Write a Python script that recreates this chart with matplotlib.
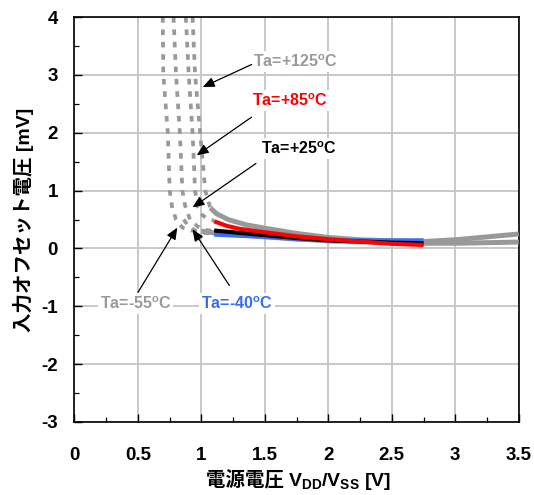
import matplotlib
matplotlib.use("Agg")
import matplotlib.pyplot as plt
from matplotlib.ticker import MultipleLocator

plt.rcParams['mathtext.fontset'] = 'custom'
plt.rcParams['mathtext.rm'] = 'Liberation Sans:bold'
plt.rcParams['mathtext.it'] = 'Liberation Sans:bold'
plt.rcParams['mathtext.bf'] = 'Liberation Sans:bold'
plt.rcParams['font.family'] = ['Liberation Sans', 'Noto Sans CJK JP', 'DejaVu Sans']
plt.rcParams['font.weight'] = 'bold'
plt.rcParams['axes.unicode_minus'] = False

# ---- data ----
# low-voltage (dotted) portions
dot_m55_x = [0.695, 0.70, 0.735, 0.75, 0.77, 0.80, 0.85, 0.92, 1.00]
dot_m55_y = [4.0, 3.0, 2.0, 1.0, 0.70, 0.50, 0.36, 0.31, 0.30]
dot_m40_x = [0.86, 0.90, 0.95, 1.02, 1.10]
dot_m40_y = [0.50, 0.38, 0.31, 0.27, 0.25]
dot_25_x = [0.78, 0.80, 0.83, 0.85, 0.87, 0.91, 0.97, 1.04, 1.10]
dot_25_y = [4.0, 3.0, 2.0, 1.0, 0.75, 0.50, 0.38, 0.32, 0.30]
dot_85_x = [0.877, 0.90, 0.93, 0.95, 0.97, 1.01, 1.06, 1.10]
dot_85_y = [4.0, 3.0, 2.0, 1.0, 0.72, 0.57, 0.50, 0.48]
dot_125_x = [0.93, 0.95, 0.99, 1.03, 1.07]
dot_125_y = [4.0, 3.0, 2.0, 1.0, 0.70]

# solid portions
sol_125_x = [1.07, 1.12, 1.21, 1.35, 1.5, 1.75, 2.0, 2.25, 2.5, 2.75, 3.0, 3.25, 3.5]
sol_125_y = [0.70, 0.60, 0.50, 0.41, 0.35, 0.26, 0.19, 0.15, 0.13, 0.12, 0.15, 0.20, 0.25]
sol_m55_x = [1.0, 1.1, 1.5, 2.0, 2.5, 2.75, 3.0, 3.25, 3.5]
sol_m55_y = [0.30, 0.27, 0.20, 0.13, 0.10, 0.09, 0.09, 0.10, 0.11]
sol_m40_x = [1.1, 1.3, 1.5, 1.75, 2.0, 2.25, 2.5, 2.75]
sol_m40_y = [0.24, 0.22, 0.20, 0.16, 0.14, 0.14, 0.14, 0.14]
sol_25_x = [1.1, 1.2, 1.5, 1.75, 2.0, 2.25, 2.5, 2.75]
sol_25_y = [0.31, 0.29, 0.23, 0.18, 0.14, 0.12, 0.10, 0.09]
sol_85_x = [1.1, 1.2, 1.3, 1.5, 1.75, 2.0, 2.25, 2.5, 2.75]
sol_85_y = [0.47, 0.39, 0.34, 0.28, 0.21, 0.16, 0.12, 0.08, 0.06]

labels = ['Ta=+125$^{\\mathrm{o}}$C', 'Ta=+85$^{\\mathrm{o}}$C', 'Ta=+25$^{\\mathrm{o}}$C',
          'Ta=-55$^{\\mathrm{o}}$C', 'Ta=-40$^{\\mathrm{o}}$C']
label_xy = [(1.74, 3.23), (1.70, 2.56), (1.77, 1.73), (0.48, -0.95), (1.28, -0.95)]
arrow_tail = [(1.395, 3.18), (1.395, 2.27), (1.43, 1.47), (0.50, -0.76), (1.22, -0.64)]
arrow_tip = [(1.01, 2.79), (0.963, 1.61), (0.93, 0.71), (0.81, 0.36), (0.93, 0.33)]

xticks = [0, 0.5, 1, 1.5, 2, 2.5, 3, 3.5]
xticklabels = ['0', '0.5', '1', '1.5', '2', '2.5', '3', '3.5']
yticks = [-3, -2, -1, 0, 1, 2, 3, 4]
xlabel_jp = '電源電圧 '
xlabel_lat = 'V$_{\\mathrm{DD}}$/V$_{\\mathrm{SS}}$ [V]'
ylabel = '入力オフセット電圧 [mV]'

GRAY = '#999999'
RED = '#FF0000'
BLUE = '#3B6CF6'
BLACK = '#000000'
label_colors = [GRAY, RED, BLACK, GRAY, BLUE]

fig = plt.figure(figsize=(5.34, 4.95), dpi=100)
ax_l, ax_b, ax_w, ax_h = 0.1395, 0.1475, 0.832, 0.818
ax = fig.add_axes([ax_l, ax_b, ax_w, ax_h])

ax.set_xlim(0, 3.5)
ax.set_ylim(-3, 4)
ax.set_xticks(xticks)
ax.set_xticklabels(xticklabels)
ax.set_yticks(yticks)
ax.xaxis.set_minor_locator(MultipleLocator(0.25))
ax.yaxis.set_minor_locator(MultipleLocator(0.5))
ax.grid(True, which='major', color='#C4C4C4', lw=1.3, zorder=0)
ax.set_axisbelow(True)
ax.tick_params(which='major', direction='in', length=6, width=1.0, labelsize=13.5)
ax.tick_params(axis='x', which='major', pad=18)
ax.tick_params(axis='y', which='major', pad=12)
ax.tick_params(which='minor', direction='in', length=3.5, width=0.9)
for lab in ax.get_xticklabels() + ax.get_yticklabels():
    lab.set_fontweight('bold')
for s in ax.spines.values():
    s.set_linewidth(1.2)
    s.set_color('black')

dash = (0, (1.5, 1.8))
for xs, ys in [(dot_m55_x, dot_m55_y), (dot_m40_x, dot_m40_y), (dot_25_x, dot_25_y),
               (dot_85_x, dot_85_y), (dot_125_x, dot_125_y)]:
    ax.plot(xs, ys, color=GRAY, lw=2.7, linestyle=dash, zorder=2)

ax.plot(sol_m55_x, sol_m55_y, color=GRAY, lw=3.6, zorder=3, solid_capstyle='butt')
ax.plot(sol_125_x, sol_125_y, color=GRAY, lw=3.6, zorder=3, solid_capstyle='butt')
ax.plot(sol_m40_x, sol_m40_y, color=BLUE, lw=3.0, zorder=4, solid_capstyle='butt')
ax.plot(sol_25_x, sol_25_y, color=BLACK, lw=3.0, zorder=5, solid_capstyle='butt')
ax.plot(sol_85_x, sol_85_y, color=RED, lw=3.0, zorder=6, solid_capstyle='butt')

for txt, pos, col, tail, tip in zip(labels, label_xy, label_colors, arrow_tail, arrow_tip):
    ax.text(pos[0], pos[1], txt, color=col, fontsize=11.5, fontweight='bold',
            ha='center', va='center', zorder=8,
            bbox=dict(facecolor='white', edgecolor='none', pad=1.5))
    ax.annotate('', xy=tip, xytext=tail, zorder=9,
                arrowprops=dict(arrowstyle='-|>,head_length=0.7,head_width=0.3',
                                color='black', lw=0.9, shrinkA=0, shrinkB=0))

ax.set_ylabel(ylabel, fontsize=14, fontweight='bold', labelpad=5)

# x label composed of a CJK part and a Latin/mathtext part
base_y = (495 - 486) / 495
t1 = fig.text(0, base_y, xlabel_jp, fontsize=14, fontweight='bold',
              family=['Noto Sans CJK JP'], ha='left', va='baseline')
t2 = fig.text(0, base_y, xlabel_lat, fontsize=14, fontweight='bold',
              family=['Liberation Sans'], ha='left', va='baseline')
r = fig.canvas.get_renderer()
w1 = t1.get_window_extent(r).width / fig.bbox.width
w2 = t2.get_window_extent(r).width / fig.bbox.width
cx = ax_l + ax_w / 2 + 0.004
x0 = cx - (w1 + w2) / 2
t1.set_x(x0)
t2.set_x(x0 + w1)

fig.savefig('out.png', dpi=100)
